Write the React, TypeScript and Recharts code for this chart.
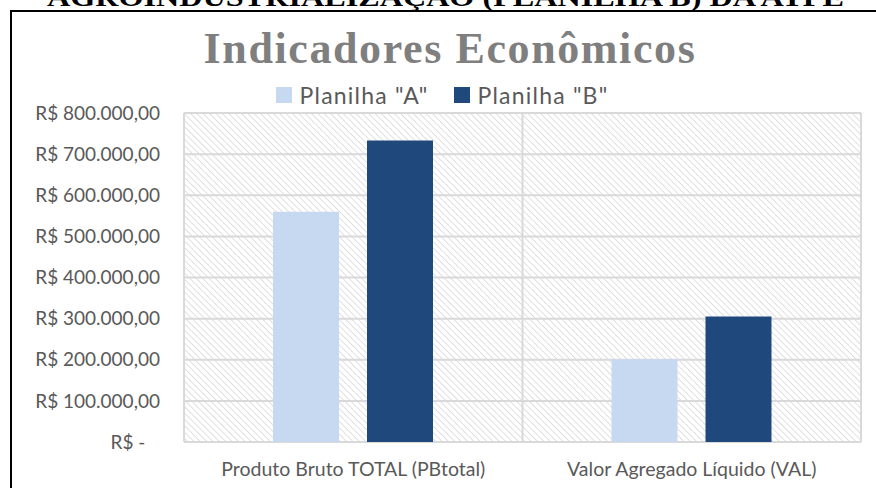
import React from 'react';
import { BarChart, Bar, XAxis, YAxis, CartesianGrid } from 'recharts';

const categories = ['Produto Bruto TOTAL (PBtotal)', 'Valor Agregado Líquido (VAL)'];
const planilhaA = [560000, 201000];
const planilhaB = [733000, 305000];
const yTicks = [0, 100000, 200000, 300000, 400000, 500000, 600000, 700000, 800000];

const series = [
  { key: 'a', name: 'Planilha "A"', color: '#c6d9f1' },
  { key: 'b', name: 'Planilha "B"', color: '#1f497d' },
];

const data = categories.map((c, i) => ({ category: c, a: planilhaA[i], b: planilhaB[i] }));

const font = 'Lato, "Open Sans", sans-serif';
const textGray = '#595959';

// Excel accounting style: R$ 800.000,00 / R$ -
function formatBRL(v: number) {
  if (v === 0) return 'R$ -\u00a0\u00a0\u00a0';
  const int = Math.floor(v)
    .toString()
    .replace(/\B(?=(\d{3})+(?!\d))/g, '.');
  return `R$ ${int},00`;
}

export default function App() {
  return (
    <div style={{ position: 'absolute', left: 0, top: 0, width: 876, height: 488, background: '#fff', overflow: 'hidden' }}>
      {/* clipped heading from the page above the chart */}
      <svg width={876} height={12} style={{ position: 'absolute', left: 0, top: 0 }}>
        <text
          x={47}
          y={6}
          textLength={797}
          lengthAdjust='spacingAndGlyphs'
          fontFamily='"Liberation Serif", serif'
          fontWeight='bold'
          fontSize={26}
          fill='#000'
        >
          AGROINDUSTRIALIZAÇÃO (PLANILHA B) DA ATPE
        </text>
      </svg>
      {/* chart frame */}
      <div style={{ position: 'absolute', left: 10, top: 10, width: 900, height: 500, borderLeft: '2px solid #000', borderTop: '2px solid #000' }} />

      <div
        style={{
          position: 'absolute',
          left: 0,
          width: 900,
          top: 22,
          textAlign: 'center',
          fontFamily: '"Liberation Serif", serif',
          fontWeight: 'bold',
          fontSize: 44,
          letterSpacing: 1.6,
          color: '#7f7f7f',
          lineHeight: '54px',
        }}
      >
        Indicadores Econômicos
      </div>

      <div
        style={{
          position: 'absolute',
          left: 0,
          width: 884,
          top: 81,
          display: 'flex',
          justifyContent: 'center',
          gap: 25,
          fontFamily: font,
          fontSize: 23,
          letterSpacing: 1.2,
          color: textGray,
          lineHeight: '28px',
        }}
      >
        {series.map((s) => (
          <div key={s.key} style={{ display: 'flex', alignItems: 'center' }}>
            <span style={{ display: 'inline-block', width: 16, height: 16, background: s.color, marginRight: 8 }} />
            {s.name}
          </div>
        ))}
      </div>

      <div style={{ position: 'absolute', left: 0, top: 0 }}>
        <BarChart
          width={876}
          height={488}
          data={data}
          margin={{ top: 113, right: 15, left: 20, bottom: 16 }}
          barSize={66}
          barGap={28}
        >
          <defs>
            <pattern id='hatch' patternUnits='userSpaceOnUse' width={4.5} height={4.5} patternTransform='rotate(-45)'>
              <rect width={4.5} height={4.5} fill='#ffffff' />
              <line x1={0} y1={0} x2={0} y2={4.5} stroke='#d6d6d6' strokeWidth={1.5} />
            </pattern>
          </defs>
          <CartesianGrid
            fill='url(#hatch)'
            fillOpacity={1}
            stroke='#d9d9d9'
            strokeWidth={2}
            verticalCoordinatesGenerator={({ offset }: any) => [
              offset.left,
              offset.left + offset.width / 2,
              offset.left + offset.width,
            ]}
          />
          <XAxis
            dataKey='category'
            axisLine={false}
            tickLine={false}
            tickSize={0}
            tickMargin={20}
            tick={{ fill: textGray, fontSize: 19.5, fontFamily: font }}
          />
          <YAxis
            width={164}
            domain={[0, 800000]}
            ticks={yTicks}
            interval={0}
            axisLine={false}
            tickLine={false}
            tickSize={0}
            tickMargin={24}
            tickFormatter={formatBRL}
            tick={{ fill: textGray, fontSize: 19, fontFamily: font }}
          />
          {series.map((s) => (
            <Bar key={s.key} dataKey={s.key} name={s.name} fill={s.color} isAnimationActive={false} />
          ))}
        </BarChart>
      </div>
    </div>
  );
}
